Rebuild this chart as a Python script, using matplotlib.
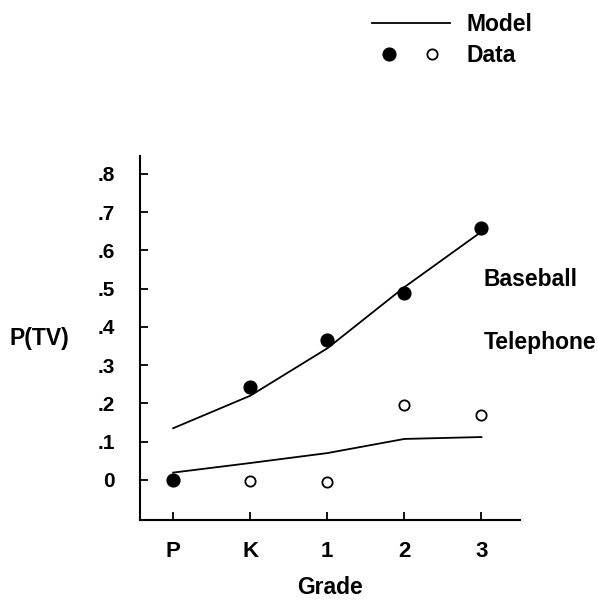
import matplotlib
matplotlib.use("Agg")
import matplotlib.pyplot as plt
from matplotlib.lines import Line2D
from matplotlib.legend_handler import HandlerTuple

# Data
grades = ["P", "K", "1", "2", "3"]
baseball_data = [0.0, 0.244, 0.366, 0.488, 0.658]
telephone_data = [0.0, -0.003, -0.006, 0.196, 0.17]
baseball_model = [0.135, 0.22, 0.344, 0.504, 0.649]
telephone_model = [0.019, 0.044, 0.07, 0.107, 0.112]
ytick_vals = [0, 0.1, 0.2, 0.3, 0.4, 0.5, 0.6, 0.7, 0.8]
ytick_labels = ["0", ".1", ".2", ".3", ".4", ".5", ".6", ".7", ".8"]

plt.rcParams['font.family'] = ['Liberation Sans', 'DejaVu Sans']
plt.rcParams['font.weight'] = 'bold'
plt.rcParams['axes.labelweight'] = 'bold'
fs_big = 16.5
fs_ytick = 15
fs_xtick = 16

W, H = 598, 600
fig = plt.figure(figsize=(W / 100, H / 100), dpi=100)
# axes box in pixels: left 140, right 520, top 156, bottom 520
ax = fig.add_axes([140 / W, 1 - 520 / H, 380 / W, 364 / H])

x = list(range(len(grades)))
ax.plot(x, baseball_model, color='black', lw=1.3)
ax.plot(x, telephone_model, color='black', lw=1.3)
ax.plot(x, telephone_data, 'o', ms=7.4, mfc='white', mec='black', mew=1.3, ls='none')
ax.plot(x, baseball_data, 'o', ms=9.2, color='black', ls='none')

ax.set_xlim(-0.43, 4.5)
ax.set_ylim(-0.105, 0.847)

ax.spines['top'].set_visible(False)
ax.spines['right'].set_visible(False)
ax.spines['left'].set_linewidth(1.5)
ax.spines['bottom'].set_linewidth(1.5)

ax.set_xticks(x)
ax.set_xticklabels(grades, fontsize=fs_xtick)
ax.set_yticks(ytick_vals)
ax.set_yticklabels(ytick_labels, fontsize=fs_ytick)
ax.tick_params(direction='in', length=6, width=1.3)
ax.tick_params(axis='x', pad=15)
ax.tick_params(axis='y', pad=18)

ax.set_xlabel("Grade", fontsize=fs_big, labelpad=10)
ax.set_ylabel("P(TV)", fontsize=fs_big, rotation=0, ha='center', va='center')
ax.yaxis.set_label_coords((39 - 140) / 380, (520 - 338) / 364)

ax.text(4.03, 0.525, "Baseball", fontsize=fs_big, ha='left', va='center', clip_on=False)
ax.text(4.03, 0.36, "Telephone", fontsize=fs_big, ha='left', va='center', clip_on=False)

h_model = Line2D([], [], color='black', lw=1.3)
h_fill = Line2D([], [], marker='o', ms=9.2, color='black', ls='none')
h_open = Line2D([], [], marker='o', ms=7.4, mfc='white', mec='black', mew=1.3, ls='none')
fig.legend([h_model, (h_fill, h_open)], ["Model", "Data"],
           handler_map={tuple: HandlerTuple(ndivide=None, pad=0.36)},
           loc='upper left', bbox_to_anchor=(351 / W, 1 + 8 / H),
           frameon=False, fontsize=fs_big, handlelength=3.4, handletextpad=0.72,
           labelspacing=0.38)

fig.savefig("out.png", dpi=100)
